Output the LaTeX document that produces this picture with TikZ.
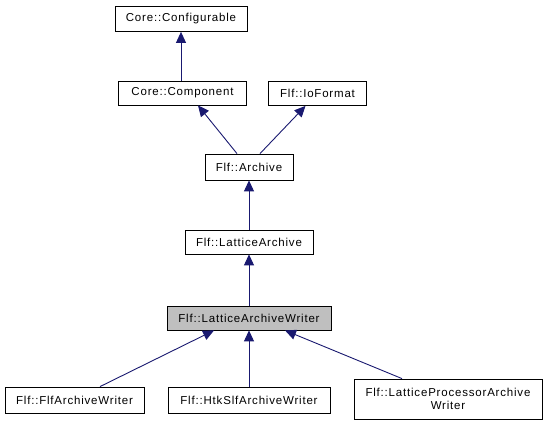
\documentclass[tikz,border=0pt]{standalone}
\usepackage{fontspec}
\setmainfont{Liberation Sans}[LetterSpace=7]
\usetikzlibrary{arrows.meta}
\definecolor{navy}{HTML}{191970}
\definecolor{hl}{HTML}{BFBFBF}
\tikzset{
  cls/.style={draw=black, line width=0.8pt, fill=white, font=\fontsize{11.5}{13}\selectfont,
    inner sep=0pt, minimum height=25pt, anchor=center, align=center},
  inh/.style={draw=navy, line width=0.9pt, -{Triangle[length=11pt,width=10pt,fill=navy]}}
}
\begin{document}
\begin{tikzpicture}[x=1pt,y=-1pt]
\path[use as bounding box, fill=white] (0,0) rectangle (547,425);
\node[cls, minimum width=132pt] (conf) at (181,19) {Core::Configurable};
\node[cls, minimum width=128pt, minimum height=24pt] (comp) at (182.5,93) {Core::Component};
\node[cls, minimum width=98pt, minimum height=24pt] (io) at (317.5,93.5) {Flf::IoFormat};
\node[cls, minimum width=88pt, minimum height=26pt] (arch) at (249,167) {Flf::Archive};
\node[cls, minimum width=128pt, minimum height=24pt] (la) at (249,242) {Flf::LatticeArchive};
\node[cls, minimum width=164pt, minimum height=24pt, fill=hl] (law) at (249,318) {Flf::LatticeArchiveWriter};
\node[cls, minimum width=139pt, minimum height=26pt] (flf) at (74.5,400) {Flf::FlfArchiveWriter};
\node[cls, minimum width=162pt, minimum height=26pt] (htk) at (249,400) {Flf::HtkSlfArchiveWriter};
\node[cls, minimum width=188pt, minimum height=40pt] (lpa) at (448,399) {Flf::LatticeProcessorArchive\\Writer};
\draw[inh] (conf.south |- comp.north) -- (conf.south);
\draw[inh] ([xshift=-12pt]arch.north) -- ([xshift=15.5pt]comp.south);
\draw[inh] ([xshift=11pt]arch.north) -- ([xshift=-12pt]io.south);
\draw[inh] (la.north) -- (arch.south);
\draw[inh] (law.north) -- (la.south);
\draw[inh] ([xshift=25.5pt]flf.north) -- ([xshift=-35pt]law.south);
\draw[inh] (htk.north) -- (law.south);
\draw[inh] ([xshift=-46pt]lpa.north) -- ([xshift=36pt]law.south);
\end{tikzpicture}
\end{document}
